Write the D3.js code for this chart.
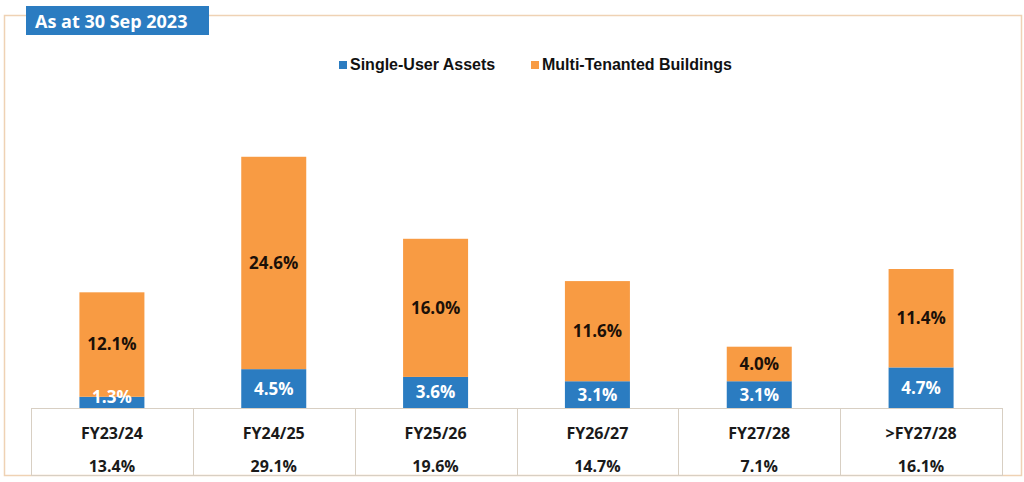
<!DOCTYPE html>
<html>
<head>
<meta charset="utf-8">
<script src="https://cdn.jsdelivr.net/npm/d3@7"></script>
<style>
  body { margin: 0; background: #fff; }
  svg { display: block; }
</style>
</head>
<body>
<svg></svg>
<script>
const width = 1024;
const height = 482;

const categories = ['FY23/24', 'FY24/25', 'FY25/26', 'FY26/27', 'FY27/28', '>FY27/28'];
const singleUser = [1.3, 4.5, 3.6, 3.1, 3.1, 4.7];
const multiTenanted = [12.1, 24.6, 16.0, 11.6, 4.0, 11.4];
const totals = ['13.4%', '29.1%', '19.6%', '14.7%', '7.1%', '16.1%'];
const seriesNames = ['Single-User Assets', 'Multi-Tenanted Buildings'];

const blue = '#2b7cc1';
const orange = '#f89b43';
const table = {left: 31, right: 1002, top: 408, bottom: 475};

const svg = d3.select('svg')
  .attr('width', width)
  .attr('height', height);

// outer frame
svg.append('rect')
  .attr('x', 4.5).attr('y', 15.5)
  .attr('width', 1017).attr('height', 460)
  .attr('fill', 'none')
  .attr('stroke', '#efd2b4')
  .attr('stroke-width', 1.5);

// header tag
svg.append('rect')
  .attr('x', 26).attr('y', 6)
  .attr('width', 183).attr('height', 29)
  .attr('fill', blue);
svg.append('text')
  .attr('x', 35).attr('y', 28)
  .attr('fill', '#fff')
  .style('font', 'bold 18px "Open Sans", sans-serif')
  .text('As at 30 Sep 2023');

// legend
const legend = svg.append('g').style('font', 'bold 16px "Liberation Sans", Arial, sans-serif');
const legendX = [339, 531];
seriesNames.forEach((name, i) => {
  legend.append('rect')
    .attr('x', legendX[i]).attr('y', 61)
    .attr('width', 8).attr('height', 8)
    .attr('fill', i === 0 ? blue : orange);
  legend.append('text')
    .attr('x', legendX[i] + 11).attr('y', 70)
    .attr('fill', '#111')
    .text(name);
});

const xScale = d3.scaleBand()
  .domain(categories)
  .range([table.left, table.right]);

const yScale = d3.scaleLinear()
  .domain([0, 30])
  .range([table.top, 149]);

const barW = 65;
const data = categories.map((c, i) => ({cat: c, s: singleUser[i], m: multiTenanted[i], total: totals[i]}));

const bars = svg.append('g');
const cx = d => xScale(d.cat) + xScale.bandwidth() / 2;

bars.selectAll('.single').data(data)
  .enter().append('rect')
  .attr('x', d => cx(d) - barW / 2)
  .attr('y', d => yScale(d.s))
  .attr('width', barW)
  .attr('height', d => yScale(0) - yScale(d.s))
  .attr('fill', blue);

bars.selectAll('.multi').data(data)
  .enter().append('rect')
  .attr('x', d => cx(d) - barW / 2)
  .attr('y', d => yScale(d.s + d.m))
  .attr('width', barW)
  .attr('height', d => yScale(d.s) - yScale(d.s + d.m))
  .attr('fill', orange);

const labelFont = 'bold 17px "Open Sans", sans-serif';

bars.selectAll('.mlabel').data(data)
  .enter().append('text')
  .attr('x', cx)
  .attr('y', d => (yScale(d.s) + yScale(d.s + d.m)) / 2)
  .attr('dy', '0.35em')
  .attr('text-anchor', 'middle')
  .attr('fill', '#1b1008')
  .style('font', labelFont)
  .text(d => d.m.toFixed(1) + '%');

bars.selectAll('.slabel').data(data)
  .enter().append('text')
  .attr('x', cx)
  .attr('y', d => Math.min((yScale(0) + yScale(d.s)) / 2, yScale(0) - 11))
  .attr('dy', '0.35em')
  .attr('text-anchor', 'middle')
  .attr('fill', '#fff')
  .style('font', labelFont)
  .text(d => d.s.toFixed(1) + '%');

// table below
const tbl = svg.append('g');
tbl.append('rect')
  .attr('x', table.left + 0.5).attr('y', table.top + 0.5)
  .attr('width', table.right - table.left).attr('height', table.bottom - table.top)
  .attr('fill', 'none')
  .attr('stroke', '#d8cfc3');

tbl.selectAll('.divider').data(categories.slice(1))
  .enter().append('line')
  .attr('x1', d => Math.round(xScale(d)) + 0.5)
  .attr('x2', d => Math.round(xScale(d)) + 0.5)
  .attr('y1', table.top)
  .attr('y2', table.bottom)
  .attr('stroke', '#d8cfc3');

const tableFont = 'bold 16px "Open Sans", sans-serif';

tbl.selectAll('.cat').data(data)
  .enter().append('text')
  .attr('x', cx)
  .attr('y', 433)
  .attr('dy', '0.35em')
  .attr('text-anchor', 'middle')
  .attr('fill', '#1a1a1a')
  .style('font', tableFont)
  .text(d => d.cat);

tbl.selectAll('.tot').data(data)
  .enter().append('text')
  .attr('x', cx)
  .attr('y', 466)
  .attr('dy', '0.35em')
  .attr('text-anchor', 'middle')
  .attr('fill', '#1a1a1a')
  .style('font', tableFont)
  .text(d => d.total);
</script>
</body>
</html>
